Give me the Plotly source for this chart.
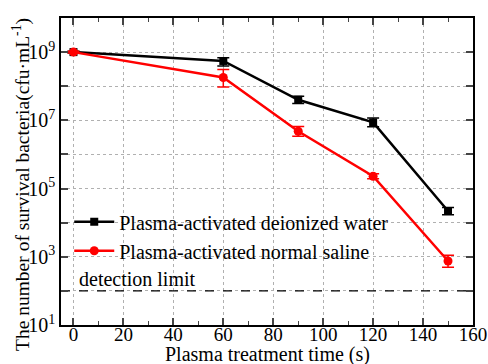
import plotly.graph_objects as go

time_s = [0, 60, 90, 120, 150]
water = [1.0e9, 5.5e8, 4.0e7, 8.7e6, 2.2e4]
water_plus = [0.6e8, 1.3e8, 1.1e7, 3.0e6, 0.6e4]
water_minus = [0.6e8, 1.6e8, 0.9e7, 2.2e6, 0.5e4]
saline = [1.0e9, 1.8e8, 4.8e6, 2.3e5, 7.5e2]
saline_plus = [0.6e8, 1.3e8, 1.8e6, 0.4e5, 3.5e2]
saline_minus = [0.6e8, 0.85e8, 1.4e6, 0.35e5, 2.6e2]
detection_limit = 1e2
x_ticks = [0, 20, 40, 60, 80, 100, 120, 140, 160]
y_exps = list(range(1, 11))

FONT = "Liberation Serif, Times New Roman, serif"
FS = 20

fig = go.Figure()
fig.add_trace(go.Scatter(
    x=time_s, y=water, mode="lines+markers", name="Plasma-activated deionized water",
    line=dict(color="black", width=2.5), marker=dict(symbol="square", size=8, color="black"),
    error_y=dict(type="data", array=water_plus, arrayminus=water_minus, color="black",
                 thickness=1.5, width=6)))
fig.add_trace(go.Scatter(
    x=time_s, y=saline, mode="lines+markers", name="Plasma-activated normal saline",
    line=dict(color="red", width=2.5), marker=dict(symbol="circle", size=9, color="red"),
    error_y=dict(type="data", array=saline_plus, arrayminus=saline_minus, color="red",
                 thickness=1.5, width=6)))
fig.add_trace(go.Scatter(
    x=[-5, 160], y=[detection_limit, detection_limit], mode="lines", showlegend=False,
    line=dict(color="black", width=1.2, dash="dash"), hoverinfo="skip"))

fig.add_annotation(x=1.5, y=1.98, xref="x", yref="y", text="detection limit",
                   showarrow=False, xanchor="left", yanchor="bottom",
                   font=dict(family=FONT, size=FS, color="black"))
# axis titles as annotations for exact placement
fig.add_annotation(x=0.5, y=-0.136, xref="paper", yref="paper", xanchor="center",
                   yanchor="bottom", text="Plasma treatment time (s)", showarrow=False,
                   font=dict(family=FONT, size=FS, color="black"), borderpad=0)
fig.add_annotation(x=-40 / 412, y=(325 - 185) / 307, xref="paper", yref="paper",
                   xanchor="center", yanchor="middle", textangle=-90,
                   text="The number of survival bacteria(cfu·mL<sup>-1</sup>)", showarrow=False,
                   font=dict(family=FONT, size=19.5, color="black"), borderpad=0)

fig.update_layout(
    width=488, height=364,
    margin=dict(l=61, r=15, t=18, b=39),
    paper_bgcolor="white", plot_bgcolor="white",
    font=dict(family=FONT, size=FS, color="black"),
    showlegend=True,
    legend=dict(x=0.02, y=0.40, xanchor="left", yanchor="top", bgcolor="rgba(0,0,0,0)",
                font=dict(family=FONT, size=FS), tracegroupgap=0, itemwidth=40),
)
fig.update_xaxes(
    range=[-5, 160], tickvals=x_ticks, ticks="inside", ticklen=7, tickwidth=1.5,
    minor=dict(dtick=10, tick0=0, ticks="inside", ticklen=4, tickwidth=1.2, showgrid=False),
    showline=True, linecolor="black", linewidth=1.5, mirror="allticks",
    showgrid=True, gridcolor="#b0b0b0", griddash="dot", gridwidth=1,
    zeroline=False, tickfont=dict(size=19), automargin=False, ticklabelstandoff=-9,
)
fig.update_yaxes(
    type="log", range=[1, 10],
    tickvals=[10 ** e for e in y_exps],
    ticktext=[f"10<sup>{e}</sup>" if e % 2 == 1 and e < 10 else "" for e in y_exps],
    ticks="inside", ticklen=7, tickwidth=1.5,
    showline=True, linecolor="black", linewidth=1.5, mirror="allticks",
    showgrid=True, gridcolor="#b0b0b0", griddash="dot", gridwidth=1,
    zeroline=False, tickfont=dict(size=FS), automargin=False,
)

fig.write_html("out.html")
